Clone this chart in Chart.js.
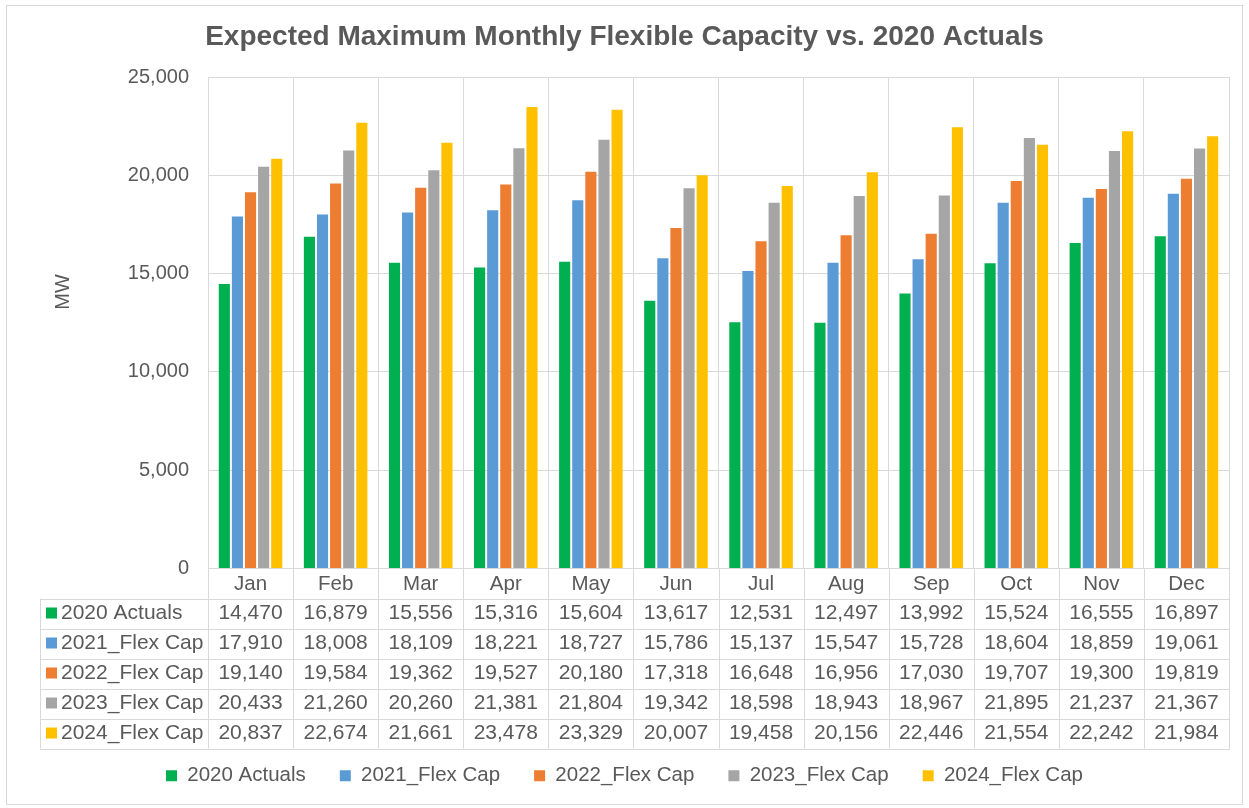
<!DOCTYPE html>
<html>
<head>
<meta charset="utf-8">
<title>Expected Maximum Monthly Flexible Capacity vs. 2020 Actuals</title>
<script src="https://cdn.jsdelivr.net/npm/chart.js@4.4.6/dist/chart.umd.min.js"></script>
<style>
  html, body { margin: 0; padding: 0; background: #fff; }
  #wrap { width: 1249px; height: 808px; }
</style>
</head>
<body>
<div id="wrap"><canvas id="chart-flex" width="1249" height="808"></canvas></div>
<script>
const months = ["Jan", "Feb", "Mar", "Apr", "May", "Jun", "Jul", "Aug", "Sep", "Oct", "Nov", "Dec"];
const seriesNames = ["2020 Actuals", "2021_Flex Cap", "2022_Flex Cap", "2023_Flex Cap", "2024_Flex Cap"];
const actuals2020 = [14470, 16879, 15556, 15316, 15604, 13617, 12531, 12497, 13992, 15524, 16555, 16897];
const flex2021    = [17910, 18008, 18109, 18221, 18727, 15786, 15137, 15547, 15728, 18604, 18859, 19061];
const flex2022    = [19140, 19584, 19362, 19527, 20180, 17318, 16648, 16956, 17030, 19707, 19300, 19819];
const flex2023    = [20433, 21260, 20260, 21381, 21804, 19342, 18598, 18943, 18967, 21895, 21237, 21367];
const flex2024    = [20837, 22674, 21661, 23478, 23329, 20007, 19458, 20156, 22446, 21554, 22242, 21984];
const yTicks = [0, 5000, 10000, 15000, 20000, 25000];

// ---- styles ----
const COLORS = ["#00B050", "#5B9BD5", "#ED7D31", "#A5A5A5", "#FFC000"];
const TEXT = "#595959";
const GRID = "#D9D9D9";
const FONT = "'Liberation Sans', Arial, sans-serif";

Chart.defaults.font.family = FONT;
Chart.defaults.color = TEXT;

const seriesValues = [actuals2020, flex2021, flex2022, flex2023, flex2024];
const fmt = v => v.toLocaleString("en-US");

// data table + axis title + outer frame
const tablePlugin = {
  id: "dataTable",
  afterDraw(chart) {
    const { ctx, chartArea } = chart;
    const x = chart.scales.x;
    const headH = 30, rowH = 30, tableLeft = 40;
    const top = chartArea.bottom;
    const bodyTop = top + headH;
    const bottom = bodyTop + rowH * seriesValues.length;
    const colW = x.width / months.length;

    ctx.save();
    ctx.strokeStyle = GRID;
    ctx.lineWidth = 1;
    ctx.beginPath();
    for (let i = 0; i <= months.length; i++) {
      const px = Math.round(x.left + i * colW) + 0.5;
      ctx.moveTo(px, top);
      ctx.lineTo(px, bottom);
    }
    ctx.moveTo(tableLeft + 0.5, bodyTop);
    ctx.lineTo(tableLeft + 0.5, bottom);
    for (let r = 0; r <= seriesValues.length; r++) {
      const py = Math.round(bodyTop + r * rowH) + 0.5;
      ctx.moveTo(tableLeft, py);
      ctx.lineTo(Math.round(x.right) + 1, py);
    }
    ctx.stroke();

    ctx.font = `21px ${FONT}`;
    ctx.fillStyle = TEXT;
    ctx.textBaseline = "middle";
    seriesValues.forEach((vals, r) => {
      const cy = bodyTop + r * rowH + rowH / 2;
      ctx.fillStyle = COLORS[r];
      ctx.fillRect(tableLeft + 6, cy - 6, 11, 11);
      ctx.fillStyle = TEXT;
      ctx.textAlign = "left";
      ctx.fillText(seriesNames[r], tableLeft + 21, cy);
      ctx.textAlign = "center";
      vals.forEach((v, i) => ctx.fillText(fmt(v), x.left + (i + 0.5) * colW, cy));
    });

    // y axis title
    ctx.font = `20px ${FONT}`;
    ctx.save();
    ctx.translate(63, 292);
    ctx.rotate(-Math.PI / 2);
    ctx.textAlign = "center";
    ctx.fillText("MW", 0, 0);
    ctx.restore();

    // chart frame
    ctx.strokeStyle = GRID;
    ctx.strokeRect(6.5, 5.5, 1236, 799);
    ctx.restore();
  }
};

new Chart(document.getElementById("chart-flex"), {
  type: "bar",
  data: {
    labels: months,
    datasets: seriesValues.map((vals, i) => ({
      label: seriesNames[i],
      data: vals,
      backgroundColor: COLORS[i],
      categoryPercentage: 0.77,
      barPercentage: 0.85,
    })),
  },
  options: {
    responsive: false,
    animation: false,
    layout: { padding: { top: 0, left: 20, right: 20, bottom: 12 } },
    scales: {
      x: {
        grid: { color: GRID, drawTicks: false, offset: true },
        border: { color: GRID },
        ticks: { color: TEXT, font: { size: 20.5 }, padding: 4 },
        afterFit(scale) { scale.height = 163; },
      },
      y: {
        min: 0,
        max: 25000,
        afterBuildTicks(scale) { scale.ticks = yTicks.map(v => ({ value: v })); },
        grid: { color: GRID, drawTicks: false },
        border: { color: GRID },
        ticks: { color: TEXT, font: { size: 20 }, padding: 19, callback: v => fmt(v) },
        afterFit(scale) { scale.width = 188; },
      },
    },
    plugins: {
      title: {
        display: true,
        text: "Expected Maximum Monthly Flexible Capacity vs. 2020 Actuals",
        color: TEXT,
        font: { size: 28, weight: "bold" },
        padding: { top: 20, bottom: 23.4 },
      },
      legend: {
        position: "bottom",
        labels: { boxWidth: 11, boxHeight: 11, padding: 34, color: TEXT, font: { size: 20.5 } },
      },
      tooltip: { enabled: false },
    },
  },
  plugins: [tablePlugin],
});
</script>
</body>
</html>
